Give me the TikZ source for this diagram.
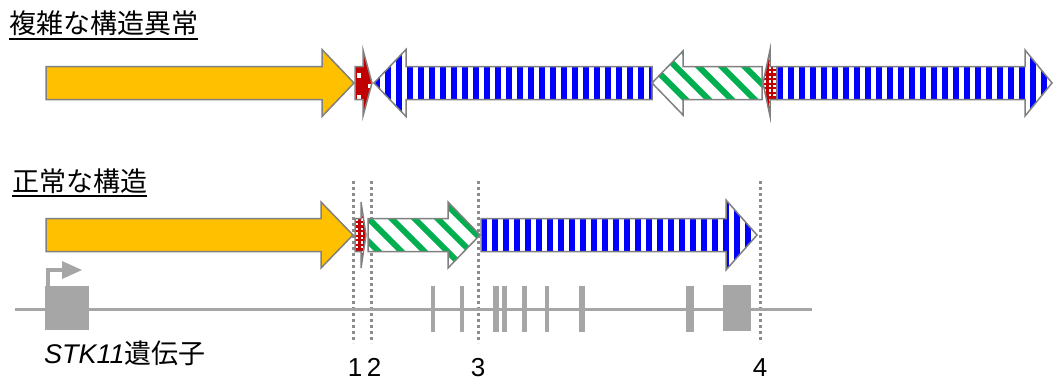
\documentclass[tikz,border=0pt]{standalone}
\usepackage{fontspec}
\setmainfont{Liberation Sans}
\newfontfamily\jp{Noto Sans CJK JP}
\definecolor{orangeF}{HTML}{FFC000}
\definecolor{outl}{HTML}{808080}
\definecolor{blueS}{HTML}{0000FF}
\definecolor{greenS}{HTML}{00B050}
\definecolor{redF}{HTML}{C00000}
\definecolor{geneG}{HTML}{A6A6A6}
\definecolor{dotG}{HTML}{8C8C8C}

% #1 tail x, #2 head base x, #3 tip x, #4 centre y, #5 body half height, #6 head half height
\newcommand{\arrpath}[6]{(#1,{#4-#5}) -- (#2,{#4-#5}) -- (#2,{#4-#6}) -- (#3,#4) -- (#2,{#4+#6}) -- (#2,{#4+#5}) -- (#1,{#4+#5}) -- cycle}

\newcommand{\orangearrow}[6]{%
  \fill[orangeF] \arrpath{#1}{#2}{#3}{#4}{#5}{#6};
  \draw[outline] \arrpath{#1}{#2}{#3}{#4}{#5}{#6};}

\newcommand{\bluearrow}[6]{%
  \begin{scope}
    \clip \arrpath{#1}{#2}{#3}{#4}{#5}{#6};
    \fill[white] \arrpath{#1}{#2}{#3}{#4}{#5}{#6};
    \pgfmathsetmacro\xs{min(#1,#3)}
    \foreach \i in {0,...,30} \fill[blueS] ({\xs+\i*11},{#4-40}) rectangle ++(6,80);
  \end{scope}
  \draw[outline] \arrpath{#1}{#2}{#3}{#4}{#5}{#6};}

\newcommand{\greenarrow}[6]{%
  \begin{scope}
    \clip \arrpath{#1}{#2}{#3}{#4}{#5}{#6};
    \fill[white] \arrpath{#1}{#2}{#3}{#4}{#5}{#6};
    \pgfmathsetmacro\xs{min(#1,#3)}
    \foreach \i in {-5,...,12} \draw[greenS, line width=6pt] ({\xs+\i*23},{#4-40}) -- ++(80,80);
  \end{scope}
  \draw[outline] \arrpath{#1}{#2}{#3}{#4}{#5}{#6};}

\newcommand{\redarrow}[6]{%
  \begin{scope}
    \clip \arrpath{#1}{#2}{#3}{#4}{#5}{#6};
    \fill[redF] \arrpath{#1}{#2}{#3}{#4}{#5}{#6};
    \pgfmathsetmacro\xs{min(#1,#3)}
    \foreach \i in {0,...,4} \foreach \j in {0,...,14}
      \fill[white] ({\xs+1+\i*4.6},{#4-35+\j*4.6}) rectangle ++(2.3,2.3);
  \end{scope}
  \draw[outline] \arrpath{#1}{#2}{#3}{#4}{#5}{#6};}

\begin{document}
\begin{tikzpicture}[x=1pt,y=-1pt,
  outline/.style={draw=outl, line width=1.5pt, line join=miter},
  txt/.style={inner sep=0pt, anchor=base west, font=\fontsize{27}{30}\selectfont},
  num/.style={inner sep=0pt, anchor=base, font=\fontsize{26}{28}\selectfont},
  ulineS/.style={line width=1.8pt, black},
  dotline/.style={dotG, line width=3pt, dash pattern=on 3pt off 3pt},
  exon/.style={fill=geneG, draw=none}]
\useasboundingbox (0,0) rectangle (1054,380);

% titles
\node[txt] (title1) at (9,33) {\jp 複雑な構造異常};
\draw[ulineS] ([yshift=-6pt]title1.base west) -- ([yshift=-6pt]title1.base east);
\node[txt] (title2) at (12,191) {\jp 正常な構造};
\draw[ulineS] ([yshift=-5pt]title2.base west) -- ([yshift=-5pt]title2.base east);

% top row: complex rearrangement
\orangearrow{46}{322}{354}{83}{16.5}{33.5}
\begin{scope}
  \fill[redF] \arrpath{355}{363}{372}{83}{16.5}{33};
  \fill[white] (357,73) rectangle (361,77.5);
  \fill[white] (368,84) rectangle (371,88);
  \fill[white] (357,95) rectangle (360.5,98.5);
  \draw[outline] \arrpath{355}{363}{372}{83}{16.5}{33};
\end{scope}
\bluearrow{652}{406}{374}{83}{16.5}{33.5}
\greenarrow{762}{683}{652}{83}{16.5}{32}
\redarrow{777}{770}{763}{83}{16.5}{33}
\bluearrow{777}{1025}{1052}{83}{16.5}{33}

% dotted breakpoint lines
\coordinate (b1t) at (353,181); \coordinate (b1b) at (353,343);
\coordinate (b2t) at (371,181); \coordinate (b2b) at (371,343);
\coordinate (b3t) at (478,181); \coordinate (b3b) at (478,343);
\coordinate (b4t) at (760,181); \coordinate (b4b) at (760,343);
\draw[dotline] (b1t) -- (b1b);
\draw[dotline] (b2t) -- (b2b);
\draw[dotline] (b3t) -- (b3b);
\draw[dotline] (b4t) -- (b4b);

% bottom row: normal structure
\orangearrow{46}{321}{353}{235}{16.5}{33}
\redarrow{355}{361}{366}{235}{16.5}{33}
\greenarrow{368}{448}{480}{235}{16.5}{33}
\bluearrow{481}{726}{757}{235}{16.5}{35}

% gene
\coordinate (gL) at (15,309); \coordinate (gR) at (812,309);
\draw[geneG, line width=3pt] (gL) -- (gR);
\fill[exon] (45,286) rectangle (89,330);
\fill[exon] (431,286) rectangle (435,332);
\fill[exon] (460,286) rectangle (464,332);
\fill[exon] (493,286) rectangle (499,332);
\fill[exon] (502,286) rectangle (507,332);
\fill[exon] (522,286) rectangle (527,332);
\fill[exon] (545,286) rectangle (548.5,332);
\fill[exon] (578.5,286) rectangle (585,332);
\fill[exon] (686,286) rectangle (694,332);
\fill[exon] (723,285) rectangle (751,331);
% promoter arrow
\coordinate (p0) at (48,287); \coordinate (p1) at (48,270); \coordinate (p2) at (63,270);
\draw[geneG, line width=4pt] (p0) -- (p1) -- (p2);
\fill[geneG] (62,261) -- (82,270) -- (62,279) -- cycle;

% labels
\node[txt] (genelabel) at (44,363) {\textit{STK11}\jp 遺伝子};
\node[num] (n1) at (355,376) {1};
\node[num] (n2) at (374,376) {2};
\node[num] (n3) at (478,376) {3};
\node[num] (n4) at (760,376) {4};
\end{tikzpicture}
\end{document}
